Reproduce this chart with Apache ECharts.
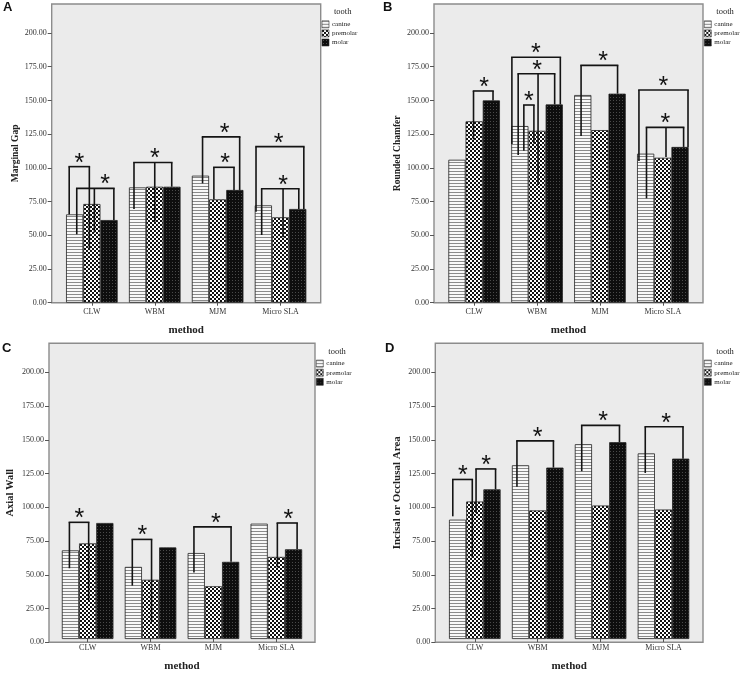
<!DOCTYPE html>
<html>
<head>
<meta charset="utf-8">
<script src="https://cdn.jsdelivr.net/npm/echarts@6/dist/echarts.min.js"></script>
<style>
html,body{margin:0;padding:0;background:#fff;}
#chart{width:747px;height:673px;}
</style>
</head>
<body>
<div id="chart"></div>
<script>
// ---------- data ----------
const categories = ['CLW', 'WBM', 'MJM', 'Micro SLA'];
const teeth = ['canine', 'premolar', 'molar'];
const yTicks = [0, 25, 50, 75, 100, 125, 150, 175, 200];
const yMax = 221.5;

const gapCanine = [65.5, 85.5, 94.2, 72.2];
const gapPremolar = [73.2, 86, 76.6, 63.3];
const gapMolar = [61.3, 86, 83.6, 69.5];

const chamferCanine = [106, 131, 154, 110.5];
const chamferPremolar = [134.5, 127.5, 128, 107.5];
const chamferMolar = [150, 147, 155, 115.5];

const axialCanine = [66.4, 54, 64.4, 86.4];
const axialPremolar = [71.6, 44.4, 39.5, 61.5];
const axialMolar = [86.9, 68.6, 57.8, 67.2];

const occlusalCanine = [89.4, 130.1, 145.9, 139];
const occlusalPremolar = [103, 96.3, 100, 97];
const occlusalMolar = [112.1, 128.4, 147.4, 135.1];

// significance brackets: [top value, star x (category units), legs [[x, bottom value], ...]]
const bracketsA = [
  [100.9, -0.2, [[-0.36, 65.5], [-0.04, 39]]],
  [84.8, 0.21, [[-0.24, 50.7], [0.04, 52], [0.35, 61.3]]],
  [104, 1.0, [[0.67, 69.5], [1.0, 60], [1.27, 86]]],
  [123, 2.11, [[1.76, 88.5], [2.35, 83.6]]],
  [100.4, 2.12, [[1.94, 76.6], [2.26, 83.6]]],
  [115.7, 2.97, [[2.61, 67.5], [3.37, 69.5]]],
  [84.5, 3.04, [[2.7, 50.2], [3.04, 48.5], [3.29, 69.5]]]
];
const bracketsB = [
  [157, 0.16, [[-0.01, 121], [0.3, 150]]],
  [182, 0.98, [[0.6, 117.7], [1.37, 147]]],
  [169.8, 1.0, [[0.7, 109.5], [1.016, 87.3], [1.28, 147]]],
  [146.6, 0.87, [[0.79, 112.7], [0.95, 118]]],
  [176, 2.05, [[1.7, 123.6], [2.28, 155]]],
  [157.7, 3.01, [[2.62, 105], [3.4, 115.5]]],
  [130, 3.04, [[2.74, 77.4], [3.05, 108], [3.33, 115.5]]]
];
const bracketsC = [
  [87.4, -0.13, [[-0.29, 53], [0.016, 29]]],
  [74.6, 0.87, [[0.71, 40], [1.016, 12.8]]],
  [84, 2.04, [[1.69, 49.9], [2.28, 57.8]]],
  [86.9, 3.19, [[3.016, 53.6], [3.33, 67.2]]]
];
const bracketsD = [
  [119.5, -0.19, [[-0.35, 91.9], [-0.04, 61]]],
  [127.4, 0.18, [[0.02, 94.3], [0.33, 112.1]]],
  [148.4, 1.0, [[0.67, 114], [1.25, 128.4]]],
  [160, 2.04, [[1.7, 125.7], [2.3, 147.4]]],
  [159, 3.04, [[2.71, 124.4], [3.31, 135.1]]]
];

const panelLetters = ['A', 'B', 'C', 'D'];
const yTitles = ['Marginal Gap', 'Rounded Chamfer', 'Axial Wall', 'Incisal or Occlusal Area'];
const xTitle = 'method';
const legendTitle = 'tooth';

// ---------- styles / layout ----------
function makePattern(w, h, draw) {
  const c = document.createElement('canvas');
  c.width = w; c.height = h;
  draw(c.getContext('2d'));
  return { image: c, repeat: 'repeat' };
}
const patCanine = makePattern(4, 3, ctx => {
  ctx.fillStyle = '#f8f8f8'; ctx.fillRect(0, 0, 4, 3);
  ctx.fillStyle = '#8a8a8a'; ctx.fillRect(0, 0, 4, 1);
});
const patPremolar = makePattern(4, 4, ctx => {
  ctx.fillStyle = '#ffffff'; ctx.fillRect(0, 0, 4, 4);
  ctx.fillStyle = '#111111'; ctx.fillRect(0, 0, 2, 2); ctx.fillRect(2, 2, 2, 2);
});
const patMolar = makePattern(3, 3, ctx => {
  ctx.fillStyle = '#0e0e0e'; ctx.fillRect(0, 0, 3, 3);
  ctx.fillStyle = '#4a4a4a'; ctx.fillRect(1, 1, 1, 1);
});
const patterns = [patCanine, patPremolar, patMolar];

const serif = '"Liberation Serif", "DejaVu Serif", serif';
const sans = '"Liberation Sans", Arial, sans-serif';

// frames: [left, top, width, height]
const frames = [
  [51.7, 4, 269, 298.7],
  [434, 4, 269, 298.7],
  [49, 343.3, 266, 299],
  [435.3, 343.3, 267.7, 299]
];
const bandWidth = 62.9;
const yTitleGap = [31, 31, 33, 33];
const yTitleSize = [9.5, 9.5, 10.5, 11];
const letterPos = [[3, 1], [383, 1], [2, 342], [385, 342]];

const panelValues = [
  [gapCanine, gapPremolar, gapMolar],
  [chamferCanine, chamferPremolar, chamferMolar],
  [axialCanine, axialPremolar, axialMolar],
  [occlusalCanine, occlusalPremolar, occlusalMolar]
];
const panelBrackets = [bracketsA, bracketsB, bracketsC, bracketsD];

const grid = [], xAxis = [], yAxis = [], series = [], legend = [], title = [];

function bracketSeries(list, xIdx, yIdx) {
  return {
    type: 'custom',
    xAxisIndex: xIdx,
    yAxisIndex: yIdx,
    silent: true,
    clip: false,
    z: 10,
    data: list.map(b => [b[1], b[0]]),
    renderItem: function (params, api) {
      const b = list[params.dataIndex];
      const top = b[0];
      const legs = b[2];
      const xs = legs.map(l => l[0]);
      const minX = Math.min.apply(null, xs), maxX = Math.max.apply(null, xs);
      const st = { stroke: '#141414', lineWidth: 1.6, lineCap: 'square' };
      const children = [];
      const p1 = api.coord([minX, top]), p2 = api.coord([maxX, top]);
      children.push({ type: 'line', shape: { x1: p1[0], y1: p1[1], x2: p2[0], y2: p2[1] }, style: st });
      legs.forEach(l => {
        const a = api.coord([l[0], top]), c = api.coord([l[0], l[1]]);
        children.push({ type: 'line', shape: { x1: a[0], y1: a[1], x2: c[0], y2: c[1] }, style: { stroke: '#141414', lineWidth: 1.6 } });
      });
      const s = api.coord([b[1], top]);
      children.push({
        type: 'text', x: s[0], y: s[1] - 3,
        style: { text: '*', font: '25px ' + sans, align: 'center', verticalAlign: 'middle', fill: '#111' }
      });
      return { type: 'group', children: children };
    }
  };
}

frames.forEach((f, p) => {
  const [L, T, W, H] = f;
  const inset = (W - bandWidth * 4) / 2;
  // frame grid
  grid.push({ left: L, top: T, width: W, height: H, show: true, backgroundColor: '#ebebeb', borderColor: '#8c8c8c', borderWidth: 1.4, z: 0 });
  // data grid
  grid.push({ left: L + inset, top: T, width: W - 2 * inset, height: H });
  const gF = 2 * p, gD = 2 * p + 1;

  xAxis.push({ gridIndex: gF, type: 'value', show: false, min: 0, max: 1 });
  xAxis.push({
    gridIndex: gD, type: 'category', data: categories,
    axisLine: { show: false },
    axisTick: { show: true, alignWithLabel: true, length: 3, lineStyle: { color: '#555', width: 1 } },
    axisLabel: { fontFamily: serif, fontSize: 8, color: '#333', margin: 5 },
    name: xTitle, nameLocation: 'middle', nameGap: 22,
    nameTextStyle: { fontFamily: serif, fontSize: 11, fontWeight: 'bold', color: '#222' }
  });
  xAxis.push({ gridIndex: gD, type: 'value', show: false, min: -0.5, max: 3.5 });
  const xCat = 3 * p + 1, xVal = 3 * p + 2;

  yAxis.push({
    gridIndex: gF, type: 'value', min: 0, max: yMax,
    axisLine: { show: false },
    splitLine: { show: false },
    axisTick: { show: true, length: 4, customValues: yTicks, lineStyle: { color: '#555', width: 1 } },
    axisLabel: { customValues: yTicks, fontFamily: serif, fontSize: 8, color: '#333', margin: 5, formatter: v => v.toFixed(2) },
    name: yTitles[p], nameLocation: 'middle', nameGap: yTitleGap[p],
    nameTextStyle: { fontFamily: serif, fontSize: yTitleSize[p], fontWeight: 'bold', color: '#222' }
  });
  yAxis.push({ gridIndex: gD, type: 'value', min: 0, max: yMax, show: false, splitLine: { show: false } });
  const yD = 2 * p + 1;

  teeth.forEach((t, k) => {
    series.push({
      type: 'bar', name: t, xAxisIndex: xCat, yAxisIndex: yD,
      data: panelValues[p][k],
      barGap: '0%', barCategoryGap: '18%',
      itemStyle: { color: patterns[k], borderColor: '#222', borderWidth: 0.8 },
      silent: true
    });
  });
  series.push(bracketSeries(panelBrackets[p], xVal, yD));

  legend.push({
    data: teeth, orient: 'vertical', left: L + W + 1, top: T + 16.5,
    itemWidth: 7, itemHeight: 7, itemGap: 1.5, padding: 0,
    icon: 'rect', selectedMode: false,
    itemStyle: { borderColor: '#333', borderWidth: 0.6 },
    textStyle: { fontFamily: serif, fontSize: 7, color: '#222', padding: [0, 0, 0, -2] }
  });
  title.push({
    text: legendTitle, left: L + W + 22, top: T + 3.5, textAlign: 'center', padding: 0,
    textStyle: { fontFamily: serif, fontSize: 8.5, fontWeight: 'normal', color: '#222' }
  });
  title.push({
    text: panelLetters[p], left: letterPos[p][0], top: letterPos[p][1], padding: 0,
    textStyle: { fontFamily: sans, fontSize: 13, fontWeight: 'bold', color: '#111' }
  });
});

const chart = echarts.init(document.getElementById('chart'), null, { renderer: 'canvas' });
chart.setOption({
  animation: false,
  backgroundColor: '#ffffff',
  title: title,
  legend: legend,
  grid: grid,
  xAxis: xAxis,
  yAxis: yAxis,
  series: series
});
</script>
</body>
</html>
